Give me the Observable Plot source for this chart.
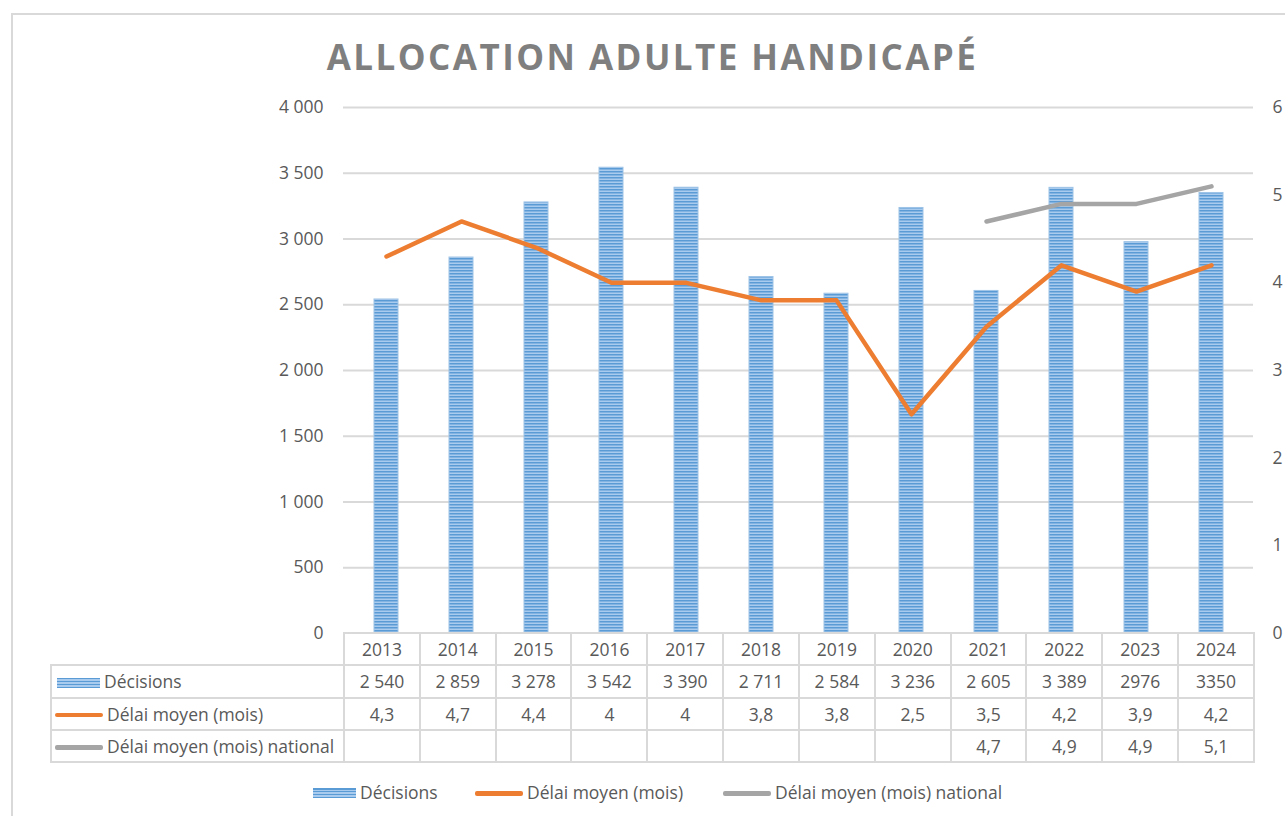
<!DOCTYPE html>
<html><head><meta charset="utf-8">
<script src="https://cdn.jsdelivr.net/npm/d3@7"></script>
<script src="https://cdn.jsdelivr.net/npm/@observablehq/plot@0.6"></script>
<style>
body{margin:0;background:#fff;font-family:"Open Sans",sans-serif;color:#595959;}
#wrap{position:relative;width:1285px;height:816px;overflow:hidden;}
#frame{position:absolute;left:11px;top:13px;width:1320px;height:840px;border:2px solid #d9d9d9;box-sizing:border-box;}
#title{position:absolute;left:0;width:1305px;top:32px;text-align:center;font-weight:700;font-size:35px;letter-spacing:2.45px;color:#7f7f7f;line-height:50px;}
#chart{position:absolute;left:0;top:0;}
table{position:absolute;border-collapse:collapse;table-layout:fixed;font-size:17.5px;color:#595959;}
td{border:2px solid #d9d9d9;text-align:center;height:30.3px;padding:0;white-space:nowrap;}
td.lab{text-align:left;padding-left:5px;}
td.blank{border:none;border-right:2px solid #d9d9d9;}
.sw{display:inline-block;vertical-align:middle;margin-right:4px;position:relative;top:-1px;}
.bars{width:43px;height:10px;background:repeating-linear-gradient(to bottom,#5b9bd5 0,#5b9bd5 1.5px,#a9cbee 1.5px,#a9cbee 3px);}
.ln{width:48px;height:4.5px;border-radius:2px;}
#legend{position:absolute;top:780px;left:0;width:1285px;font-size:17.5px;color:#595959;}
#legend span.item{position:absolute;white-space:nowrap;}
</style></head>
<body><div id="wrap"><div id="frame"></div><div id="title">ALLOCATION ADULTE HANDICAPÉ</div><div id="chart"></div></div>
<script>
const years = ["2013","2014","2015","2016","2017","2018","2019","2020","2021","2022","2023","2024"];
const decisions = [2540,2859,3278,3542,3390,2711,2584,3236,2605,3389,2976,3350];
const decisionsLabels = ["2 540","2 859","3 278","3 542","3 390","2 711","2 584","3 236","2 605","3 389","2976","3350"];
const delai = [4.3,4.7,4.4,4,4,3.8,3.8,2.5,3.5,4.2,3.9,4.2];
const delaiNational = [null,null,null,null,null,null,null,null,4.7,4.9,4.9,5.1];
const leftTicks = [0,500,1000,1500,2000,2500,3000,3500,4000];
const rightTicks = [0,1,2,3,4,5,6];
const seriesNames = ["Décisions","Délai moyen (mois)","Délai moyen (mois) national"];
const colors = {bar:"#5b9bd5", orange:"#ed7d31", grey:"#a5a5a5"};

const W = 1285, H = 816, mL = 343, mR = 32, mT = 107, mB = 183;
const k = 4000/6;
const fr = d3.formatLocale({decimal:",",thousands:" ",grouping:[3],currency:["",""]});
const fmt = fr.format(",");
const comma = v => String(v).replace(".", ",");

const rows = years.map((y,i)=>({year:y, dec:decisions[i], del:delai[i], nat:delaiNational[i]}));

const plot = Plot.plot({
  width: W, height: H, marginLeft: mL, marginRight: mR, marginTop: mT, marginBottom: mB,
  style:{fontFamily:"Open Sans", fontSize:"17.5px", color:"#595959", background:"transparent"},
  x:{domain: years, paddingInner:0.68, paddingOuter:0.34, axis:null},
  y:{domain:[0,4000], axis:null},
  marks:[
    Plot.gridY(leftTicks.slice(1), {stroke:"#d9d9d9", strokeOpacity:1, strokeWidth:2}),
    Plot.axisY(leftTicks, {anchor:"left", label:null, tickSize:0, tickPadding:20, tickFormat: d=>fmt(d), fill:"#595959"}),
    Plot.axisY(rightTicks.map(v=>v*k), {anchor:"right", label:null, tickSize:0, tickPadding:19, tickFormat: d=>String(Math.round(d/k)), fill:"#595959", textAnchor:"start"}),
    Plot.barY(rows, {x:"year", y:"dec", fill:"url(#stripes)", stroke:"#9dc3e6", strokeWidth:1}),
    Plot.lineY(rows, {x:"year", y: d=>d.del*k, stroke:colors.orange, strokeWidth:4.5, strokeLinecap:"round", strokeLinejoin:"round"}),
    Plot.lineY(rows.filter(d=>d.nat!=null), {x:"year", y: d=>d.nat*k, stroke:colors.grey, strokeWidth:4.5, strokeLinecap:"round", strokeLinejoin:"round"})
  ]
});
const svg = d3.select(plot);
const defs = svg.insert("defs", ":first-child");
const pat = defs.append("pattern").attr("id","stripes").attr("patternUnits","userSpaceOnUse").attr("width",4).attr("height",3);
pat.append("rect").attr("width",4).attr("height",3).attr("fill","#a9cbee");
pat.append("rect").attr("width",4).attr("height",1.5).attr("fill",colors.bar);
document.getElementById("chart").appendChild(plot);

// data table
const colW = (W - mL - mR) / years.length;
const wrap = document.getElementById("wrap");
const tbl = document.createElement("table");
tbl.style.left = "50px"; tbl.style.top = (H - mB - 1) + "px";
tbl.style.width = (W - mR - 50) + "px";
let html = `<colgroup><col style="width:${mL-50}px">` + years.map(()=>`<col style="width:${colW}px">`).join("") + `</colgroup>`;
html += `<tr><td class="blank"></td>` + years.map(y=>`<td>${y}</td>`).join("") + `</tr>`;
html += `<tr><td class="lab"><span class="sw bars"></span>${seriesNames[0]}</td>` + decisionsLabels.map(v=>`<td>${v}</td>`).join("") + `</tr>`;
html += `<tr><td class="lab" style="padding-left:3px"><span class="sw ln" style="background:${colors.orange}"></span>${seriesNames[1]}</td>` + delai.map(v=>`<td>${comma(v)}</td>`).join("") + `</tr>`;
html += `<tr><td class="lab" style="padding-left:3px"><span class="sw ln" style="background:${colors.grey}"></span>${seriesNames[2]}</td>` + delaiNational.map(v=>`<td>${v==null?"":comma(v)}</td>`).join("") + `</tr>`;
tbl.innerHTML = html;
wrap.appendChild(tbl);

// legend
const lg = document.createElement("div"); lg.id = "legend";
const lx = [313, 475, 723];
lg.innerHTML =
  `<span class="item" style="left:${lx[0]}px"><span class="sw bars"></span>${seriesNames[0]}</span>` +
  `<span class="item" style="left:${lx[1]}px"><span class="sw ln" style="background:${colors.orange}"></span>${seriesNames[1]}</span>` +
  `<span class="item" style="left:${lx[2]}px"><span class="sw ln" style="background:${colors.grey}"></span>${seriesNames[2]}</span>`;
wrap.appendChild(lg);
</script></body></html>
